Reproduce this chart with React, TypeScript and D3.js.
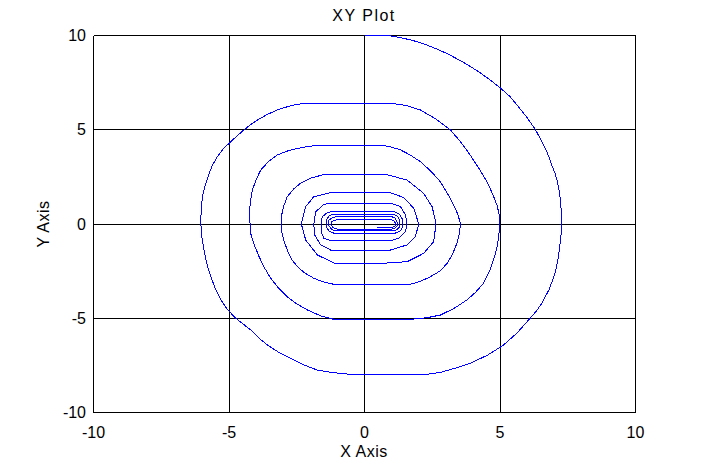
import React from "react";
import * as d3 from "d3";

const title = "XY Plot";
const xLabel = "X Axis";
const yLabel = "Y Axis";
const xDomain: [number, number] = [-10, 10];
const yDomain: [number, number] = [-10, 10];
const xTicks = [-10, -5, 0, 5, 10];
const yTicks = [-10, -5, 0, 5, 10];

// spiral trajectory (x, y)
const spiralPoints: [number, number][] = [
  // outer loop
  [0, 10], [0.85, 10], [1.31, 9.89], [1.75, 9.75], [2.2, 9.55], [2.64, 9.3], [3.08, 9.02], [3.52, 8.68],
  [3.89, 8.37], [4.26, 8.03], [4.63, 7.65], [5.0, 7.23], [5.37, 6.76], [5.63, 6.31], [5.98, 5.68], [6.3, 5.02],
  [6.5, 4.5], [6.67, 4.02], [6.8, 3.58], [6.91, 3.13], [7.03, 2.7], [7.12, 2.24], [7.18, 1.8], [7.22, 1.36],
  [7.26, 0.7], [7.28, 0], [7.26, -0.5], [7.22, -1.02], [7.15, -1.8], [7.03, -2.62], [6.82, -3.45],
  [6.54, -4.21], [6.35, -4.6], [6.11, -5.0], [5.65, -5.75], [5.13, -6.42], [4.55, -6.95], [3.9, -7.39],
  [3.35, -7.65], [2.8, -7.87], [2.37, -7.96], [-0.64, -7.96],
  [-1.2, -7.88], [-1.74, -7.75], [-2.25, -7.47], [-2.73, -7.13], [-3.17, -6.8], [-3.58, -6.42], [-3.9, -6.05],
  [-4.2, -5.62], [-4.75, -5.0], [-5.05, -4.55], [-5.3, -4.03], [-5.5, -3.45], [-5.67, -2.8], [-5.82, -2.1],
  [-5.92, -1.38], [-6.0, -0.7], [-6.04, 0], [-6.03, 0.7], [-5.98, 1.45], [-5.88, 2.05], [-5.73, 2.69],
  [-5.6, 3.15], [-5.43, 3.57], [-5.23, 3.95], [-5.0, 4.28], [-4.72, 4.65], [-4.45, 4.99], [-4.2, 5.27],
  [-3.95, 5.52], [-3.6, 5.8], [-3.22, 6.05], [-2.85, 6.22], [-2.48, 6.35], [-2.11, 6.4], [1.02, 6.4],
  // second loop
  [1.55, 6.28], [2.06, 6.05], [2.62, 5.58], [3.17, 4.99], [3.55, 4.35], [3.9, 3.66], [4.22, 2.95],
  [4.52, 2.24], [4.72, 1.62], [4.89, 1.0], [4.97, 0.5], [5.0, 0], [4.95, -0.67], [4.88, -1.3], [4.76, -1.91],
  [4.6, -2.55], [4.39, -3.15], [4.1, -3.62], [3.78, -4.03], [3.3, -4.48], [2.8, -4.83], [2.31, -4.97],
  [1.69, -5.06], [-1.13, -5.06],
  [-1.6, -4.88], [-2.11, -4.56], [-2.5, -4.24], [-2.85, -3.86], [-3.17, -3.4], [-3.46, -2.88], [-3.7, -2.3],
  [-3.89, -1.73], [-4.07, -1.1], [-4.2, -0.5], [-4.24, 0.39], [-4.22, 1.1], [-4.14, 1.8], [-4.0, 2.35],
  [-3.83, 2.86], [-3.55, 3.3], [-3.22, 3.66], [-2.85, 3.87], [-2.48, 4.01], [-2.05, 4.12], [-1.62, 4.19],
  [0.59, 4.19],
  // third loop
  [0.95, 4.1], [1.33, 3.93], [1.7, 3.65], [2.06, 3.31], [2.45, 2.8], [2.8, 2.24], [3.07, 1.6], [3.29, 1.0],
  [3.45, 0.5], [3.54, 0], [3.5, -0.5], [3.41, -1.02], [3.25, -1.6], [3.05, -2.09], [2.78, -2.5], [2.43, -2.8],
  [2.05, -3.05], [1.69, -3.2], [-1.13, -3.2],
  [-1.5, -3.08], [-1.87, -2.88], [-2.2, -2.6], [-2.48, -2.26], [-2.7, -1.85], [-2.85, -1.38], [-2.98, -0.85],
  [-3.07, -0.32], [-3.07, 0.39], [-2.98, 0.95], [-2.85, 1.45], [-2.62, 1.85], [-2.36, 2.16], [-1.95, 2.45],
  [-1.5, 2.62], [0.83, 2.62],
  // inner loops
  [1.57, 2.33], [2.18, 1.63], [2.5, 0.9], [2.64, 0], [2.55, -0.94], [2.18, -1.56], [1.57, -2.0], [0.83, -2.07],
  [-1.13, -2.07],
  [-1.74, -1.64], [-2.17, -0.85], [-2.33, 0], [-2.17, 0.92], [-1.87, 1.45], [-1.25, 1.66], [0.96, 1.66],
  [1.45, 1.4], [1.82, 0.83], [2.0, 0], [1.88, -0.67], [1.57, -1.11], [0.96, -1.38], [-1.25, -1.38],
  [-1.62, -1.11], [-1.84, -0.58], [-1.87, 0], [-1.8, 0.65], [-1.5, 1.04], [-1.25, 1.1], [0.96, 1.1],
  [1.33, 0.92], [1.51, 0.48], [1.57, 0], [1.51, -0.41], [1.26, -0.76], [0.96, -0.88], [-1.25, -0.88],
  [-1.5, -0.76], [-1.6, -0.41], [-1.6, 0], [-1.56, 0.39], [-1.37, 0.6], [-1.19, 0.67], [1.08, 0.67],
  [1.3, 0.5], [1.42, 0.2], [1.42, -0.15], [1.3, -0.4], [1.1, -0.5], [-1.1, -0.5],
  [-1.3, -0.4], [-1.41, -0.15], [-1.41, 0.2], [-1.3, 0.45], [-1.12, 0.53], [1.05, 0.53],
  [1.22, 0.42], [1.3, 0.2], [1.3, -0.15], [1.2, -0.3], [1.05, -0.36], [-1.05, -0.36],
  [-1.2, -0.3], [-1.31, -0.1], [-1.31, 0.2], [-1.2, 0.33], [-1.05, 0.39], [1.0, 0.39],
  [1.14, 0.3], [1.2, 0.1], [1.2, -0.12], [1.12, -0.22], [1.0, -0.27], [-1.0, -0.27],
  [-1.15, -0.2], [-1.24, -0.05], [-1.22, 0.12], [-1.1, 0.19], [-1.0, 0.23], [0.98, 0.23],
  [1.1, 0.15], [1.15, 0.02], [1.12, -0.12], [1.02, -0.18], [0.46, -0.18],
];

const W = 702;
const H = 464;
const left = 93.5;
const right = 635.5;
const top = 35.5;
const bottom = 412.5;
const font = "'Liberation Sans', Arial, sans-serif";

export default function App() {
  const x = d3.scaleLinear().domain(xDomain).range([left, right]);
  const y = d3.scaleLinear().domain(yDomain).range([bottom, top]);
  const line = d3
    .line<[number, number]>()
    .x((d) => x(d[0]))
    .y((d) => y(d[1]));

  return (
    <svg
      width={W}
      height={H}
      style={{ position: "absolute", left: 0, top: 0, background: "#fff" }}
      fontFamily={font}
    >
      <rect x={0} y={0} width={W} height={H} fill="#fff" />
      {xTicks.map((t) => (
        <line
          key={"gx" + t}
          x1={Math.floor(x(t)) + 0.5}
          x2={Math.floor(x(t)) + 0.5}
          y1={top}
          y2={bottom}
          stroke="#000"
          strokeWidth={1}
          shapeRendering="crispEdges"
        />
      ))}
      {yTicks.map((t) => (
        <line
          key={"gy" + t}
          y1={Math.floor(y(t)) + 0.5}
          y2={Math.floor(y(t)) + 0.5}
          x1={left}
          x2={right}
          stroke="#000"
          strokeWidth={1}
          shapeRendering="crispEdges"
        />
      ))}
      <path
        d={line(spiralPoints) || ""}
        fill="none"
        stroke="#0000ff"
        strokeWidth={1}
        shapeRendering="crispEdges"
      />
      {xTicks.map((t) => (
        <text key={"tx" + t} x={x(t)} y={438} textAnchor="middle" fontSize={16} fill="#000">
          {t}
        </text>
      ))}
      {yTicks.map((t) => (
        <text key={"ty" + t} x={86} y={y(t) + 5.5} textAnchor="end" fontSize={16} fill="#000">
          {t}
        </text>
      ))}
      <text x={364} y={21} textAnchor="middle" fontSize={16} letterSpacing={1.5} fill="#000">
        {title}
      </text>
      <text x={364} y={457} textAnchor="middle" fontSize={16} letterSpacing={0.5} fill="#000">
        {xLabel}
      </text>
      <text
        transform={`translate(49,224) rotate(-90)`}
        textAnchor="middle"
        fontSize={16}
        letterSpacing={0.5}
        fill="#000"
      >
        {yLabel}
      </text>
    </svg>
  );
}
